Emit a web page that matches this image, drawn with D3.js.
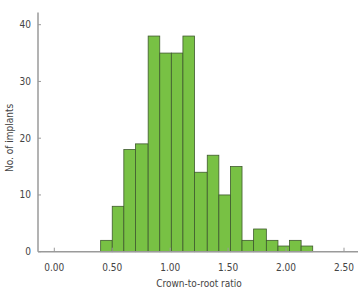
<!DOCTYPE html>
<html lang="en">
<head>
<meta charset="UTF-8">
<title>Crown-to-root ratio</title>
<style>
body { margin: 0; background: #fff; }
text { font-family: "Liberation Sans Narrow", "DejaVu Sans Condensed", sans-serif; fill: #444; }
.axis path, .axis line { stroke: #9a9a9a; }
.bar { fill: #78c144; stroke: #3f5a2e; stroke-width: 0.8; }
</style>
</head>
<body>
<script src="https://d3js.org/d3.v7.min.js"></script>
<script>
// bin edges (lower edge of each bar, last value = upper edge of last bar)
var binEdges = [0.40, 0.50, 0.60, 0.70, 0.81, 0.91, 1.01, 1.11, 1.21, 1.32,
                1.42, 1.52, 1.62, 1.72, 1.83, 1.93, 2.03, 2.13, 2.23];
var counts = [2, 8, 18, 19, 38, 35, 35, 38, 14, 17, 10, 15, 2, 4, 2, 1, 2, 1];
var xTicks = [0, 0.5, 1, 1.5, 2, 2.5];
var yTicks = [0, 10, 20, 30, 40];

var width = 359, height = 292;

var svg = d3.select("body").append("svg")
    .attr("width", width)
    .attr("height", height);

var x = d3.scaleLinear().domain([0, 2.5]).range([54.3, 344]);
var y = d3.scaleLinear().domain([0, 40]).range([251.7, 24.7]);

var bins = counts.map(function(c, i) {
  return { x0: binEdges[i], x1: binEdges[i + 1], n: c };
});

svg.append("g").selectAll("rect")
    .data(bins)
  .enter().append("rect")
    .attr("class", "bar")
    .attr("x", function(d) { return x(d.x0); })
    .attr("width", function(d) { return x(d.x1) - x(d.x0); })
    .attr("y", function(d) { return y(d.n); })
    .attr("height", function(d) { return y(0) - y(d.n); });

// x axis
var gx = svg.append("g")
    .attr("class", "axis")
    .attr("transform", "translate(0," + y(0) + ")");
gx.append("line").attr("x1", 38).attr("x2", 358).attr("y1", 0).attr("y2", 0)
    .attr("stroke-width", 1.5);
gx.selectAll(".tick").data(xTicks).enter().append("line")
    .attr("x1", function(d) { return x(d); })
    .attr("x2", function(d) { return x(d); })
    .attr("y1", 0).attr("y2", -4);
gx.selectAll("text").data(xTicks).enter().append("text")
    .attr("x", function(d) { return x(d); })
    .attr("y", 19)
    .attr("text-anchor", "middle")
    .attr("font-size", 10)
    .text(function(d) { return d3.format(".2f")(d); });

// y axis
var gy = svg.append("g")
    .attr("class", "axis")
    .attr("transform", "translate(38,0)");
gy.append("line").attr("x1", 0).attr("x2", 0).attr("y1", 12.5).attr("y2", y(0))
    .attr("stroke-width", 1.5);
gy.selectAll(".tick").data(yTicks).enter().append("line")
    .attr("x1", 0).attr("x2", 3)
    .attr("y1", function(d) { return y(d); })
    .attr("y2", function(d) { return y(d); });
gy.selectAll("text").data(yTicks).enter().append("text")
    .attr("x", -7)
    .attr("y", function(d) { return y(d); })
    .attr("dy", "0.35em")
    .attr("text-anchor", "end")
    .attr("font-size", 10)
    .text(function(d) { return d; });

svg.append("text")
    .attr("transform", "translate(9,138)rotate(-90)")
    .attr("text-anchor", "middle")
    .attr("dy", "0.35em")
    .attr("font-size", 10)
    .text("No. of implants");

svg.append("text")
    .attr("x", 199)
    .attr("y", 283)
    .attr("dy", "0.35em")
    .attr("text-anchor", "middle")
    .attr("font-size", 10)
    .text("Crown-to-root ratio");
</script>
</body>
</html>
